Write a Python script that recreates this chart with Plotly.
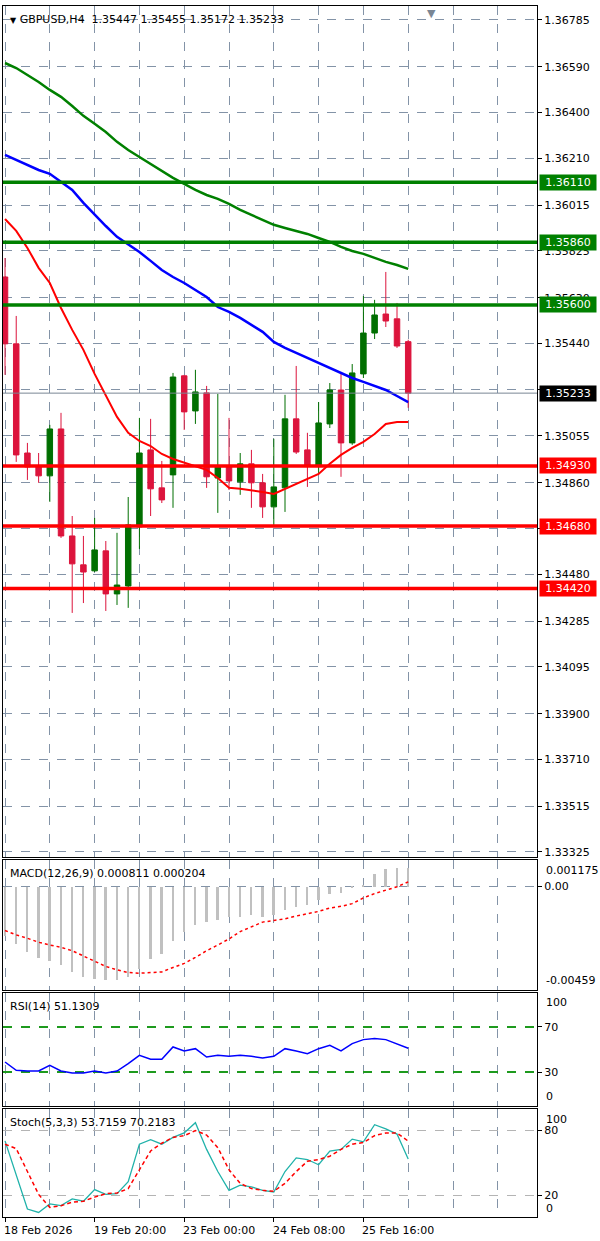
import plotly.graph_objects as go
from plotly.subplots import make_subplots

# ---------------- données (GBPUSD H4) ----------------
bars = list(range(37))

opens = [1.35716, 1.35438, 1.34984, 1.34930, 1.34889, 1.35084, 1.34639, 1.34519, 1.34494, 1.34577,
         1.34398, 1.34431, 1.34677, 1.34997, 1.34839, 1.34893, 1.35305, 1.35159, 1.35234, 1.34880,
         1.34926, 1.34864, 1.34939, 1.34860, 1.34760, 1.34839, 1.35126, 1.34997, 1.34934, 1.35105,
         1.35246, 1.35026, 1.35313, 1.35483, 1.35562, 1.35542, 1.35447]
highs = [1.35795, 1.35554, 1.35026, 1.34984, 1.35101, 1.35151, 1.34722, 1.34639, 1.34714, 1.34618,
         1.34652, 1.34801, 1.35130, 1.35126, 1.34951, 1.35317, 1.35309, 1.35330, 1.35263, 1.35230,
         1.35130, 1.34984, 1.34997, 1.34897, 1.35043, 1.35226, 1.35346, 1.35068, 1.35196, 1.35275,
         1.35321, 1.35354, 1.35637, 1.35621, 1.35737, 1.35608, 1.35455]
lows = [1.35309, 1.34947, 1.34872, 1.34860, 1.34781, 1.34631, 1.34319, 1.34360, 1.34489, 1.34327,
        1.34352, 1.34340, 1.34585, 1.34722, 1.34776, 1.34756, 1.35080, 1.35105, 1.34839, 1.34735,
        1.34830, 1.34810, 1.34756, 1.34714, 1.34677, 1.34739, 1.34980, 1.34843, 1.34901, 1.35088,
        1.34885, 1.35018, 1.35296, 1.35458, 1.35508, 1.35421, 1.35172]
closes = [1.35438, 1.34976, 1.34926, 1.34889, 1.35084, 1.34639, 1.34523, 1.34489, 1.34581, 1.34398,
          1.34435, 1.34685, 1.34984, 1.34835, 1.34789, 1.35300, 1.35155, 1.35238, 1.34885, 1.34926,
          1.34868, 1.34939, 1.34860, 1.34760, 1.34843, 1.35126, 1.34988, 1.34930, 1.35109, 1.35246,
          1.35026, 1.35317, 1.35483, 1.35558, 1.35533, 1.35429, 1.35233]

# moyennes mobiles
ma_green = [1.36606, 1.36585, 1.36556, 1.36527, 1.36494, 1.36465, 1.36427, 1.36386, 1.36353, 1.36319,
            1.36278, 1.36244, 1.36215, 1.36186, 1.36157, 1.36128, 1.36103, 1.36078, 1.36057, 1.36041,
            1.36020, 1.35995, 1.35974, 1.35953, 1.35933, 1.35920, 1.35908, 1.35895, 1.35878, 1.35862,
            1.35841, 1.35824, 1.35812, 1.35795, 1.35779, 1.35766, 1.35750]
ma_blue = [1.36224, 1.36203, 1.36182, 1.36161, 1.36145, 1.36111, 1.36078, 1.36024, 1.35974, 1.35928,
           1.35883, 1.35853, 1.35820, 1.35783, 1.35745, 1.35716, 1.35691, 1.35662, 1.35633, 1.35591,
           1.35571, 1.35546, 1.35517, 1.35488, 1.35446, 1.35421, 1.35400, 1.35379, 1.35359, 1.35338,
           1.35317, 1.35296, 1.35280, 1.35263, 1.35246, 1.35221, 1.35196]
ma_red = [1.35957, 1.35908, 1.35837, 1.35754, 1.35691, 1.35587, 1.35496, 1.35413, 1.35313, 1.35221,
          1.35134, 1.35068, 1.35034, 1.35013, 1.34980, 1.34959, 1.34943, 1.34930, 1.34914, 1.34880,
          1.34839, 1.34835, 1.34830, 1.34822, 1.34814, 1.34835, 1.34855, 1.34876, 1.34897, 1.34939,
          1.34976, 1.35005, 1.35030, 1.35063, 1.35105, 1.35113, 1.35113]

resist_levels = [1.36110, 1.35860, 1.35600]
support_levels = [1.34930, 1.34680, 1.34420]
last_price = 1.35233

price_ticks = [1.36785, 1.36590, 1.36400, 1.36210, 1.36015, 1.35825, 1.35630, 1.35440, 1.35250,
               1.35055, 1.34860, 1.34670, 1.34480, 1.34285, 1.34095, 1.33900, 1.33710, 1.33515, 1.33325]
price_tick_text = ["1.36785", "1.36590", "1.36400", "1.36210", "1.36015", "1.35825", "1.35630", "1.35440", "",
                   "1.35055", "1.34860", "", "1.34480", "1.34285", "1.34095", "1.33900", "1.33710", "1.33515", "1.33325"]
price_range = [1.33304, 1.36843]

# MACD(12,26,9)
macd_hist = [-0.002176, -0.002547, -0.002918, -0.003173, -0.003294, -0.003486, -0.003785, -0.003991, -0.004112,
             -0.004156, -0.004140, -0.003991, -0.003665, -0.003218, -0.002994, -0.002400, -0.002024, -0.001685,
             -0.001578, -0.001475, -0.001341, -0.001354, -0.001283, -0.001354, -0.001251, -0.001059, -0.000907,
             -0.000836, -0.000612, -0.000313, -0.000282, -0.000058, 0.000089, 0.000536, 0.000773, 0.000836, 0.000811]
macd_signal = [-0.001953, -0.002145, -0.002293, -0.002471, -0.002592, -0.002695, -0.002847, -0.003070, -0.003294,
               -0.003544, -0.003696, -0.003812, -0.003843, -0.003812, -0.003785, -0.003589, -0.003410, -0.003142,
               -0.002847, -0.002592, -0.002324, -0.001998, -0.001801, -0.001578, -0.001506, -0.001430, -0.001309,
               -0.001207, -0.001104, -0.000952, -0.000880, -0.000760, -0.000505, -0.000313, -0.000165, -0.000013, 0.000204]
macd_range = [-0.00459, 0.001175]

# RSI(14)
rsi = [38.9, 31.5, 30.9, 30.9, 35.9, 30.9, 29.1, 29.1, 30.9, 29.1, 30.9, 37.4, 44.8, 41.3, 41.3, 52.2, 48.7, 50.7,
       43.3, 44.8, 43.9, 44.8, 43.9, 42.4, 43.9, 50.7, 48.7, 46.3, 50.7, 53.7, 48.7, 55.2, 58.7, 59.6, 58.7, 55.2, 51.13]

# Stoch(5,3,3)
stoch_k = [70.5, 38.9, 7.4, 4.2, 12.1, 10.5, 16.8, 14.6, 25.4, 20.9, 21.6, 32.6, 67.4, 71.5, 67.4, 73.7, 77.8, 87.3,
           62.6, 42.1, 24.7, 29.5, 27.9, 24.7, 23.2, 42.1, 54.7, 53.2, 48.4, 61.1, 62.6, 72.1, 69.6, 85.4, 81.6, 76.8, 53.72]
stoch_d = [67.4, 63.3, 42.1, 20.9, 8.9, 10.5, 13.7, 14.6, 18.4, 21.6, 22.2, 26.3, 43.7, 61.1, 68.3, 73.7, 75.3, 80.0,
           75.9, 64.2, 43.7, 31.1, 26.3, 24.7, 23.8, 31.1, 42.1, 51.6, 53.2, 56.3, 62.6, 67.4, 68.9, 75.3, 77.8, 77.8, 70.22]

date_labels = ["18 Feb 2026", "19 Feb 20:00", "23 Feb 00:00", "24 Feb 08:00", "25 Feb 16:00"]
date_pos = [0, 8, 16, 24, 32]
grid_minor = [4, 12, 20, 28, 36, 40, 44]
x_range = [-0.18, 47.5]

# ---------------- figure ----------------
GRID = "#8393A7"
FONT = "DejaVu Sans"

fig = make_subplots(rows=4, cols=1, shared_xaxes=True, vertical_spacing=0.0)

# bougies
fig.add_trace(go.Candlestick(
    x=bars, open=opens, high=highs, low=lows, close=closes,
    increasing=dict(line=dict(color="#006F00", width=1), fillcolor="#006F00"),
    decreasing=dict(line=dict(color="#DC143C", width=1), fillcolor="#DC143C"),
    whiskerwidth=0, hoverinfo="skip"
), row=1, col=1)

# niveaux horizontaux
for lvl in resist_levels:
    fig.add_hline(y=lvl, line=dict(color="#008000", width=3.5), row=1, col=1)
for lvl in support_levels:
    fig.add_hline(y=lvl, line=dict(color="#FF0000", width=3.5), row=1, col=1)
fig.add_hline(y=last_price, line=dict(color="#7A8694", width=1), row=1, col=1)

# moyennes mobiles
fig.add_trace(go.Scatter(x=bars, y=ma_green, mode="lines", line=dict(color="#008000", width=2.5)), row=1, col=1)
fig.add_trace(go.Scatter(x=bars, y=ma_blue, mode="lines", line=dict(color="#0000FF", width=2.5)), row=1, col=1)
fig.add_trace(go.Scatter(x=bars, y=ma_red, mode="lines", line=dict(color="#FF0000", width=2)), row=1, col=1)

# MACD
fig.add_trace(go.Bar(x=bars, y=macd_hist, width=0.16, marker=dict(color="#C0C0C0", line=dict(width=0))), row=2, col=1)
fig.add_trace(go.Scatter(x=bars, y=macd_signal, mode="lines",
                         line=dict(color="#FF0000", width=1.5, dash="3px,3px")), row=2, col=1)

# RSI
fig.add_trace(go.Scatter(x=bars, y=rsi, mode="lines", line=dict(color="#0000FF", width=1.5)), row=3, col=1)

# Stochastique
fig.add_trace(go.Scatter(x=bars, y=stoch_k, mode="lines", line=dict(color="#20B2AA", width=1.3)), row=4, col=1)
fig.add_trace(go.Scatter(x=bars, y=stoch_d, mode="lines",
                         line=dict(color="#FF0000", width=1.5, dash="4px,3px")), row=4, col=1)

# ---------------- axes ----------------
axis_frame = dict(showline=True, mirror=True, linecolor="#000000", linewidth=1)

for r in range(1, 5):
    fig.update_xaxes(
        range=x_range, tickvals=date_pos, showticklabels=False,
        showgrid=True, gridcolor=GRID, griddash="dash", gridwidth=1,
        minor=dict(tickvals=grid_minor, showgrid=True, gridcolor=GRID, griddash="dash", gridwidth=1, ticks=""),
        ticks="outside" if r == 4 else "", ticklen=4, tickcolor="#000000",
        rangeslider_visible=False, zeroline=False,
        **axis_frame, row=r, col=1)

tick_style = dict(side="right", ticks="outside", ticklen=4, tickcolor="#000000",
                  tickfont=dict(family=FONT, size=11, color="#000000"), zeroline=False)

fig.update_yaxes(range=price_range, tickvals=price_ticks, ticktext=price_tick_text,
                 showgrid=True, gridcolor=GRID, griddash="dash", **tick_style, **axis_frame, row=1, col=1)
fig.update_yaxes(range=macd_range, tickvals=[0], ticktext=["0.00"],
                 showgrid=True, gridcolor=GRID, griddash="dash", **tick_style, **axis_frame, row=2, col=1)
fig.update_yaxes(range=[0, 100], tickvals=[30, 70], ticktext=["30", "70"],
                 showgrid=True, gridcolor="#1E9A1E", griddash="dash", gridwidth=1.5,
                 **tick_style, **axis_frame, row=3, col=1)
fig.update_yaxes(range=[0, 100], tickvals=[20, 80], ticktext=["20", "80"],
                 showgrid=True, gridcolor="#B4B4B4", griddash="dash", gridwidth=1.3,
                 **tick_style, **axis_frame, row=4, col=1)

fig.update_layout(
    yaxis=dict(domain=[0.2973, 1.0]),
    yaxis2=dict(domain=[0.1874, 0.2948]),
    yaxis3=dict(domain=[0.0917, 0.1850]),
    yaxis4=dict(domain=[0.0, 0.0892]),
)

# ---------------- textes ----------------
annots = []

# étiquettes de prix à droite
for lvl in resist_levels:
    annots.append(dict(x=1, xref="paper", y=lvl, yref="y", xanchor="left", xshift=2, text=f"{lvl:.5f}",
                       showarrow=False, bgcolor="#008000", font=dict(family=FONT, size=11, color="#FFFFFF"),
                       width=54, borderpad=1))
for lvl in support_levels:
    annots.append(dict(x=1, xref="paper", y=lvl, yref="y", xanchor="left", xshift=2, text=f"{lvl:.5f}",
                       showarrow=False, bgcolor="#FF0000", font=dict(family=FONT, size=11, color="#FFFFFF"),
                       width=54, borderpad=1))
annots.append(dict(x=1, xref="paper", y=last_price, yref="y", xanchor="left", xshift=2, text=f"{last_price:.5f}",
                   showarrow=False, bgcolor="#000000", font=dict(family=FONT, size=11, color="#FFFFFF"),
                   width=54, borderpad=1))

# bornes des indicateurs
side_labels = [
    ("y2 domain", 1, -11, "0.001175"), ("y2 domain", 0, 10, "-0.00459"),
    ("y3 domain", 1, -10, "100"), ("y3 domain", 0, 9, "0"),
    ("y4 domain", 1, -11, "100"), ("y4 domain", 0, 9, "0"),
]
for yref, yv, ys, txt in side_labels:
    annots.append(dict(x=1, xref="paper", y=yv, yref=yref, xanchor="left", yanchor="middle",
                       xshift=7, yshift=ys, text=txt, showarrow=False,
                       font=dict(family=FONT, size=11, color="#000000")))

# titres des fenêtres
titles = [
    ("y domain", '<span style="font-size:8px">▼</span>\u00a0GBPUSD,H4\u00a0\u00a01.35447 1.35455 1.35172 1.35233'),
    ("y2 domain", "MACD(12,26,9) 0.000811 0.000204"),
    ("y3 domain", "RSI(14) 51.1309"),
    ("y4 domain", "Stoch(5,3,3) 53.7159 70.2183"),
]
for yref, txt in titles:
    annots.append(dict(x=0, xref="paper", y=1, yref=yref, xanchor="left", yanchor="top",
                       xshift=5, yshift=-5, text=txt, showarrow=False,
                       font=dict(family=FONT, size=11, color="#000000")))

# petit triangle de décalage
annots.append(dict(x=0.8015, xref="paper", y=1, yref="paper", xanchor="center", yanchor="top",
                   yshift=1, text="▼", showarrow=False, font=dict(family=FONT, size=11, color="#7A8694")))

# dates
for pos, lab in zip(date_pos, date_labels):
    annots.append(dict(x=pos, xref="x4", y=0, yref="paper", xanchor="left", yanchor="top",
                       xshift=-3, yshift=-5, text=lab, showarrow=False,
                       font=dict(family=FONT, size=11, color="#000000")))

fig.update_layout(
    annotations=annots,
    width=600, height=1241,
    margin=dict(l=3, r=63, t=6, b=24),
    paper_bgcolor="#FFFFFF",
    plot_bgcolor="#FFFFFF",
    showlegend=False,
    bargap=0,
    font=dict(family=FONT, size=11, color="#000000"),
)

# pas de marge de page : la figure remplit exactement la fenêtre
fig.write_html("out.html", config={"displayModeBar": False},
               post_script="document.body.style.margin='0';document.body.style.overflow='hidden';")
